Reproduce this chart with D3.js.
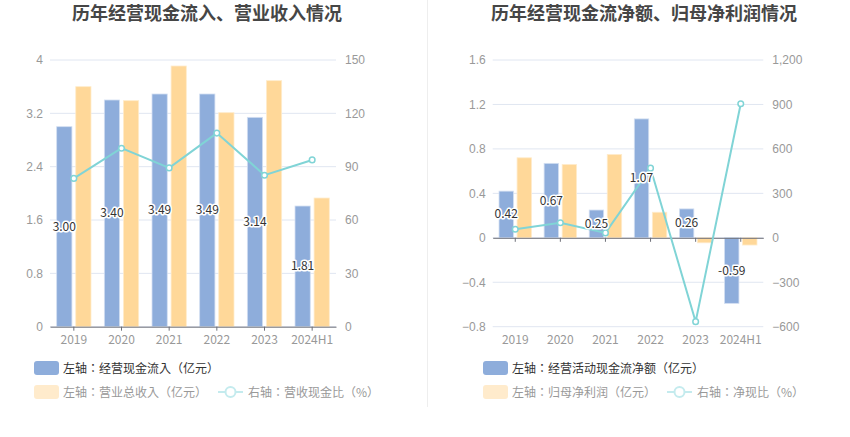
<!DOCTYPE html>
<html>
<head>
<meta charset="utf-8">
<script src="https://cdn.jsdelivr.net/npm/d3@7"></script>
<style>
  body { margin: 0; background: #fff; }
  svg { display: block; font-family: "Noto Sans CJK SC", "Noto Sans", sans-serif; }
  .legend text { font-family: "Noto Sans CJK TC", "Noto Sans CJK SC", sans-serif; }
</style>
</head>
<body>
<div id="chart"></div>
<script>
var years = ["2019", "2020", "2021", "2022", "2023", "2024H1"];

// left panel
var cashIn = [3.00, 3.40, 3.49, 3.49, 3.14, 1.81];
var revenue = [3.60, 3.39, 3.91, 3.21, 3.69, 1.93];
var cashRatio = [83.4, 100.4, 89.3, 108.9, 85.2, 93.8];
var leftTicksL = [0, 0.8, 1.6, 2.4, 3.2, 4];
var leftTicksR = [0, 30, 60, 90, 120, 150];

// right panel
var netCash = [0.42, 0.67, 0.25, 1.07, 0.26, -0.59];
var netProfit = [0.72, 0.66, 0.75, 0.23, -0.045, -0.065];
var netRatio = [58, 102, 33, 470, -566, 905];
var rightTicksL = [-0.8, -0.4, 0, 0.4, 0.8, 1.2, 1.6];
var rightTicksR = [-600, -300, 0, 300, 600, 900, 1200];

var BLUE = "#8eaddb", ORANGE = "#ffd899", LINE = "#80d4d6";

var w = 850, h = 437;
var svg = d3.select("#chart").append("svg")
    .attr("width", w)
    .attr("height", h);

// divider between panels
svg.append("line")
    .attr("x1", 427.5).attr("x2", 427.5)
    .attr("y1", 0).attr("y2", 407)
    .attr("stroke", "#eeeeee");

function drawPanel(p) {
    var g = svg.append("g");

    // title
    g.append("text")
        .attr("x", p.titleX)
        .attr("y", 20)
        .attr("text-anchor", "middle")
        .attr("fill", "#464646")
        .style("font-size", "18px")
        .style("font-weight", "bold")
        .text(p.title);

    var x = d3.scaleBand().domain(years).range([p.left, p.right]);
    var x1 = d3.scaleBand().domain(["a", "b"]).range([0, x.bandwidth()])
        .paddingInner(0.2).paddingOuter(0.35);

    var yL = d3.scaleLinear().domain(d3.extent(p.ticksL)).range([326.7, 60]);
    var yR = d3.scaleLinear().domain(d3.extent(p.ticksR)).range([326.7, 60]);

    // grid
    g.selectAll(".grid").data(p.ticksL).enter().append("line")
        .attr("x1", p.left).attr("x2", p.right)
        .attr("y1", function(d) { return yL(d); })
        .attr("y2", function(d) { return yL(d); })
        .attr("stroke", "#e0e6f1");

    // left axis labels
    var axL = g.append("g")
        .attr("transform", "translate(" + (p.left - 7) + ",0)")
        .call(d3.axisLeft(yL).tickValues(p.ticksL).tickSize(0).tickPadding(0)
            .tickFormat(d3.format("~g")));
    axL.select(".domain").remove();
    axL.selectAll("text").attr("fill", "#999").style("font-size", "12px");

    // right axis labels
    var axR = g.append("g")
        .attr("transform", "translate(" + (p.right + 9) + ",0)")
        .call(d3.axisRight(yR).tickValues(p.ticksR).tickSize(0).tickPadding(0)
            .tickFormat(d3.format(",")));
    axR.select(".domain").remove();
    axR.selectAll("text").attr("fill", "#999").style("font-size", "12px");

    // bars
    var zero = yL(0);
    g.selectAll(".barA").data(p.barA).enter().append("rect")
        .attr("x", function(d, i) { return x(years[i]) + x1("a"); })
        .attr("width", x1.bandwidth())
        .attr("y", function(d) { return Math.min(yL(d), zero); })
        .attr("height", function(d) { return Math.abs(yL(d) - zero); })
        .attr("fill", BLUE)
        .attr("stroke", "#d3dff2")
        .attr("stroke-width", 0.8);

    g.selectAll(".barB").data(p.barB).enter().append("rect")
        .attr("x", function(d, i) { return x(years[i]) + x1("b"); })
        .attr("width", x1.bandwidth())
        .attr("y", function(d) { return Math.min(yL(d), zero); })
        .attr("height", function(d) { return Math.abs(yL(d) - zero); })
        .attr("fill", ORANGE)
        .attr("stroke", "#ffeccc")
        .attr("stroke-width", 0.8);

    // x axis
    var axX = g.append("g")
        .attr("transform", "translate(0," + zero + ")")
        .call(d3.axisBottom(x).tickSize(4).tickSizeOuter(0).tickFormat(""));
    axX.select(".domain").attr("stroke", "#6e7079");
    axX.selectAll(".tick line").attr("stroke", "#6e7079");

    g.selectAll(".xlab").data(years).enter().append("text")
        .attr("x", function(d) { return x(d) + x.bandwidth() / 2; })
        .attr("y", 343.5)
        .attr("text-anchor", "middle")
        .attr("fill", "#999")
        .style("font-size", "12px")
        .text(function(d) { return d; });

    // line
    var line = d3.line()
        .x(function(d, i) { return x(years[i]) + x.bandwidth() / 2; })
        .y(function(d) { return yR(d); });

    g.append("path")
        .datum(p.ratio)
        .attr("d", line)
        .attr("fill", "none")
        .attr("stroke", LINE)
        .attr("stroke-width", 2);

    g.selectAll(".pt").data(p.ratio).enter().append("circle")
        .attr("cx", function(d, i) { return x(years[i]) + x.bandwidth() / 2; })
        .attr("cy", function(d) { return yR(d); })
        .attr("r", 2.8)
        .attr("fill", "#fff")
        .attr("stroke", LINE)
        .attr("stroke-width", 1.5);

    // value labels in middle of blue bars
    g.selectAll(".lab").data(p.barA).enter().append("text")
        .attr("x", function(d, i) { return x(years[i]) + x1("a") + x1.bandwidth() / 2; })
        .attr("y", function(d) { return (yL(d) + zero) / 2 + 4; })
        .attr("text-anchor", "middle")
        .attr("fill", "#333")
        .attr("stroke", "#fff")
        .attr("stroke-width", 3)
        .attr("stroke-linejoin", "round")
        .attr("paint-order", "stroke")
        .style("font-size", "12px")
        .text(function(d) { return d.toFixed(2); });

    // legend
    var lg = g.append("g").attr("class", "legend");
    lg.append("rect")
        .attr("x", p.legX).attr("y", 361)
        .attr("width", 25).attr("height", 14).attr("rx", 3)
        .attr("fill", BLUE);
    lg.append("text")
        .attr("x", p.legX + 29).attr("y", 372.5)
        .attr("fill", "#333")
        .style("font-size", "12px")
        .text(p.legA);

    lg.append("rect")
        .attr("x", p.legX).attr("y", 385)
        .attr("width", 25).attr("height", 14).attr("rx", 3)
        .attr("fill", "#ffebcc");
    lg.append("text")
        .attr("x", p.legX + 29).attr("y", 396.5)
        .attr("fill", "#999")
        .style("font-size", "12px")
        .text(p.legB);

    lg.append("line")
        .attr("x1", p.legLineX).attr("x2", p.legLineX + 25)
        .attr("y1", 392).attr("y2", 392)
        .attr("stroke", "#c4ebee").attr("stroke-width", 2);
    lg.append("circle")
        .attr("cx", p.legLineX + 12.5).attr("cy", 392).attr("r", 5)
        .attr("fill", "#fff")
        .attr("stroke", "#c4ebee").attr("stroke-width", 2);
    lg.append("text")
        .attr("x", p.legLineX + 30).attr("y", 396.5)
        .attr("fill", "#999")
        .style("font-size", "12px")
        .text(p.legC);
}

drawPanel({
    title: "历年经营现金流入、营业收入情况",
    titleX: 207,
    left: 50, right: 336,
    ticksL: leftTicksL, ticksR: leftTicksR,
    barA: cashIn, barB: revenue, ratio: cashRatio,
    legX: 34, legLineX: 218,
    legA: "左轴：经营现金流入（亿元）",
    legB: "左轴：营业总收入（亿元）",
    legC: "右轴：营收现金比（%）"
});

drawPanel({
    title: "历年经营现金流净额、归母净利润情况",
    titleX: 644,
    left: 492.7, right: 763.3,
    ticksL: rightTicksL, ticksR: rightTicksR,
    barA: netCash, barB: netProfit, ratio: netRatio,
    legX: 483, legLineX: 667,
    legA: "左轴：经营活动现金流净额（亿元）",
    legB: "左轴：归母净利润（亿元）",
    legC: "右轴：净现比（%）"
});
</script>
</body>
</html>
